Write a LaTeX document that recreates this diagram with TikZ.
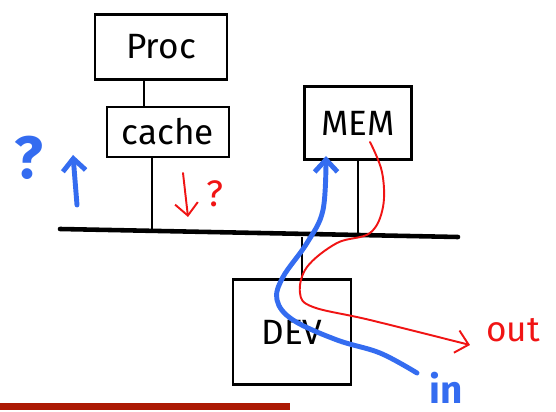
\documentclass[tikz,border=0pt]{standalone}
\usepackage{fontspec}
\setmainfont{Fira Sans}
\definecolor{penblue}{RGB}{52,108,240}
\definecolor{penred}{RGB}{240,20,20}
\definecolor{barred}{RGB}{172,26,4}
\usetikzlibrary{arrows.meta}

\begin{document}
\begin{tikzpicture}[x=0.02cm, y=-0.02cm,
    >={Straight Barb[length=7pt,width=13pt]},
    font=\fontsize{20}{24}\selectfont,
    unit/.style={draw, line width=1.3pt, inner sep=0pt},
    wire/.style={line width=1.3pt},
    bluepen/.style={draw=penblue, line width=2.8pt, line cap=round, line join=round},
    redpen/.style={draw=penred, line width=1.1pt, line cap=round}]

  \useasboundingbox (0,0) rectangle (556,412);

  % the boxes
  \node[unit, minimum width=2.64cm, minimum height=1.3cm] (proc) at (161,47) {Proc};
  \node[unit, minimum width=2.44cm, minimum height=1cm] (cache) at (168,132) {cache};
  \node[unit, minimum width=2.14cm, minimum height=1.46cm] (mem) at (358,123) {MEM};
  \node[unit, minimum width=2.36cm, minimum height=2.1cm] (dev) at (292,332) {DEV};

  % bus and the taps onto it
  \coordinate (busL) at (60,229);
  \coordinate (busR) at (458,237);
  \draw[line width=2.6pt, line cap=round] (busL) -- (busR);

  \draw[wire] ([xshift=-0.34cm]proc.south) -- ([xshift=-0.34cm]proc.south |- cache.north);
  \draw[wire] ([xshift=-0.32cm]cache.south) -- ([xshift=-0.32cm]cache.south |- busL);
  \draw[wire] (mem.south) -- (mem.south |- busR);
  \draw[wire] ([xshift=0.2cm]dev.north) -- ([xshift=0.2cm]dev.north |- busR);

  % the question marks and small arrows
  \node[text=penblue, font=\fontsize{34}{36}\selectfont\bfseries] (qblue) at (29,158) {?};
  \coordinate (upfoot) at (77,205);
  \coordinate (uphead) at (73,155);
  \draw[bluepen, ->] (upfoot) -- (uphead);

  \node[text=penred, font=\fontsize{21}{24}\selectfont] (qred) at (215,194) {?};
  \coordinate (downtop) at (183,173);
  \coordinate (downend) at (188,217);
  \draw[redpen, ->] (downtop) -- (downend);

  % transfers between MEM and DEV
  \node[text=penred] (out) at (513,330) {out};
  \node[text=penblue, font=\fontsize{22}{24}\selectfont\bfseries] (in) at (446,388) {in};

  \draw[redpen, ->] plot[smooth, tension=0.6] coordinates {(370,142) (382,172) (383,207)
    (370,233) (337,243) (307,267) (300,293) (313,307) (370,320) (470,345)};
  \draw[bluepen, ->] plot[smooth, tension=0.6] coordinates {(417,373) (380,353) (337,340)
    (293,320) (277,300) (283,277) (307,243) (323,210) (326,156)};

  \fill[barred] (0,403) rectangle (290,410);

\end{tikzpicture}
\end{document}
